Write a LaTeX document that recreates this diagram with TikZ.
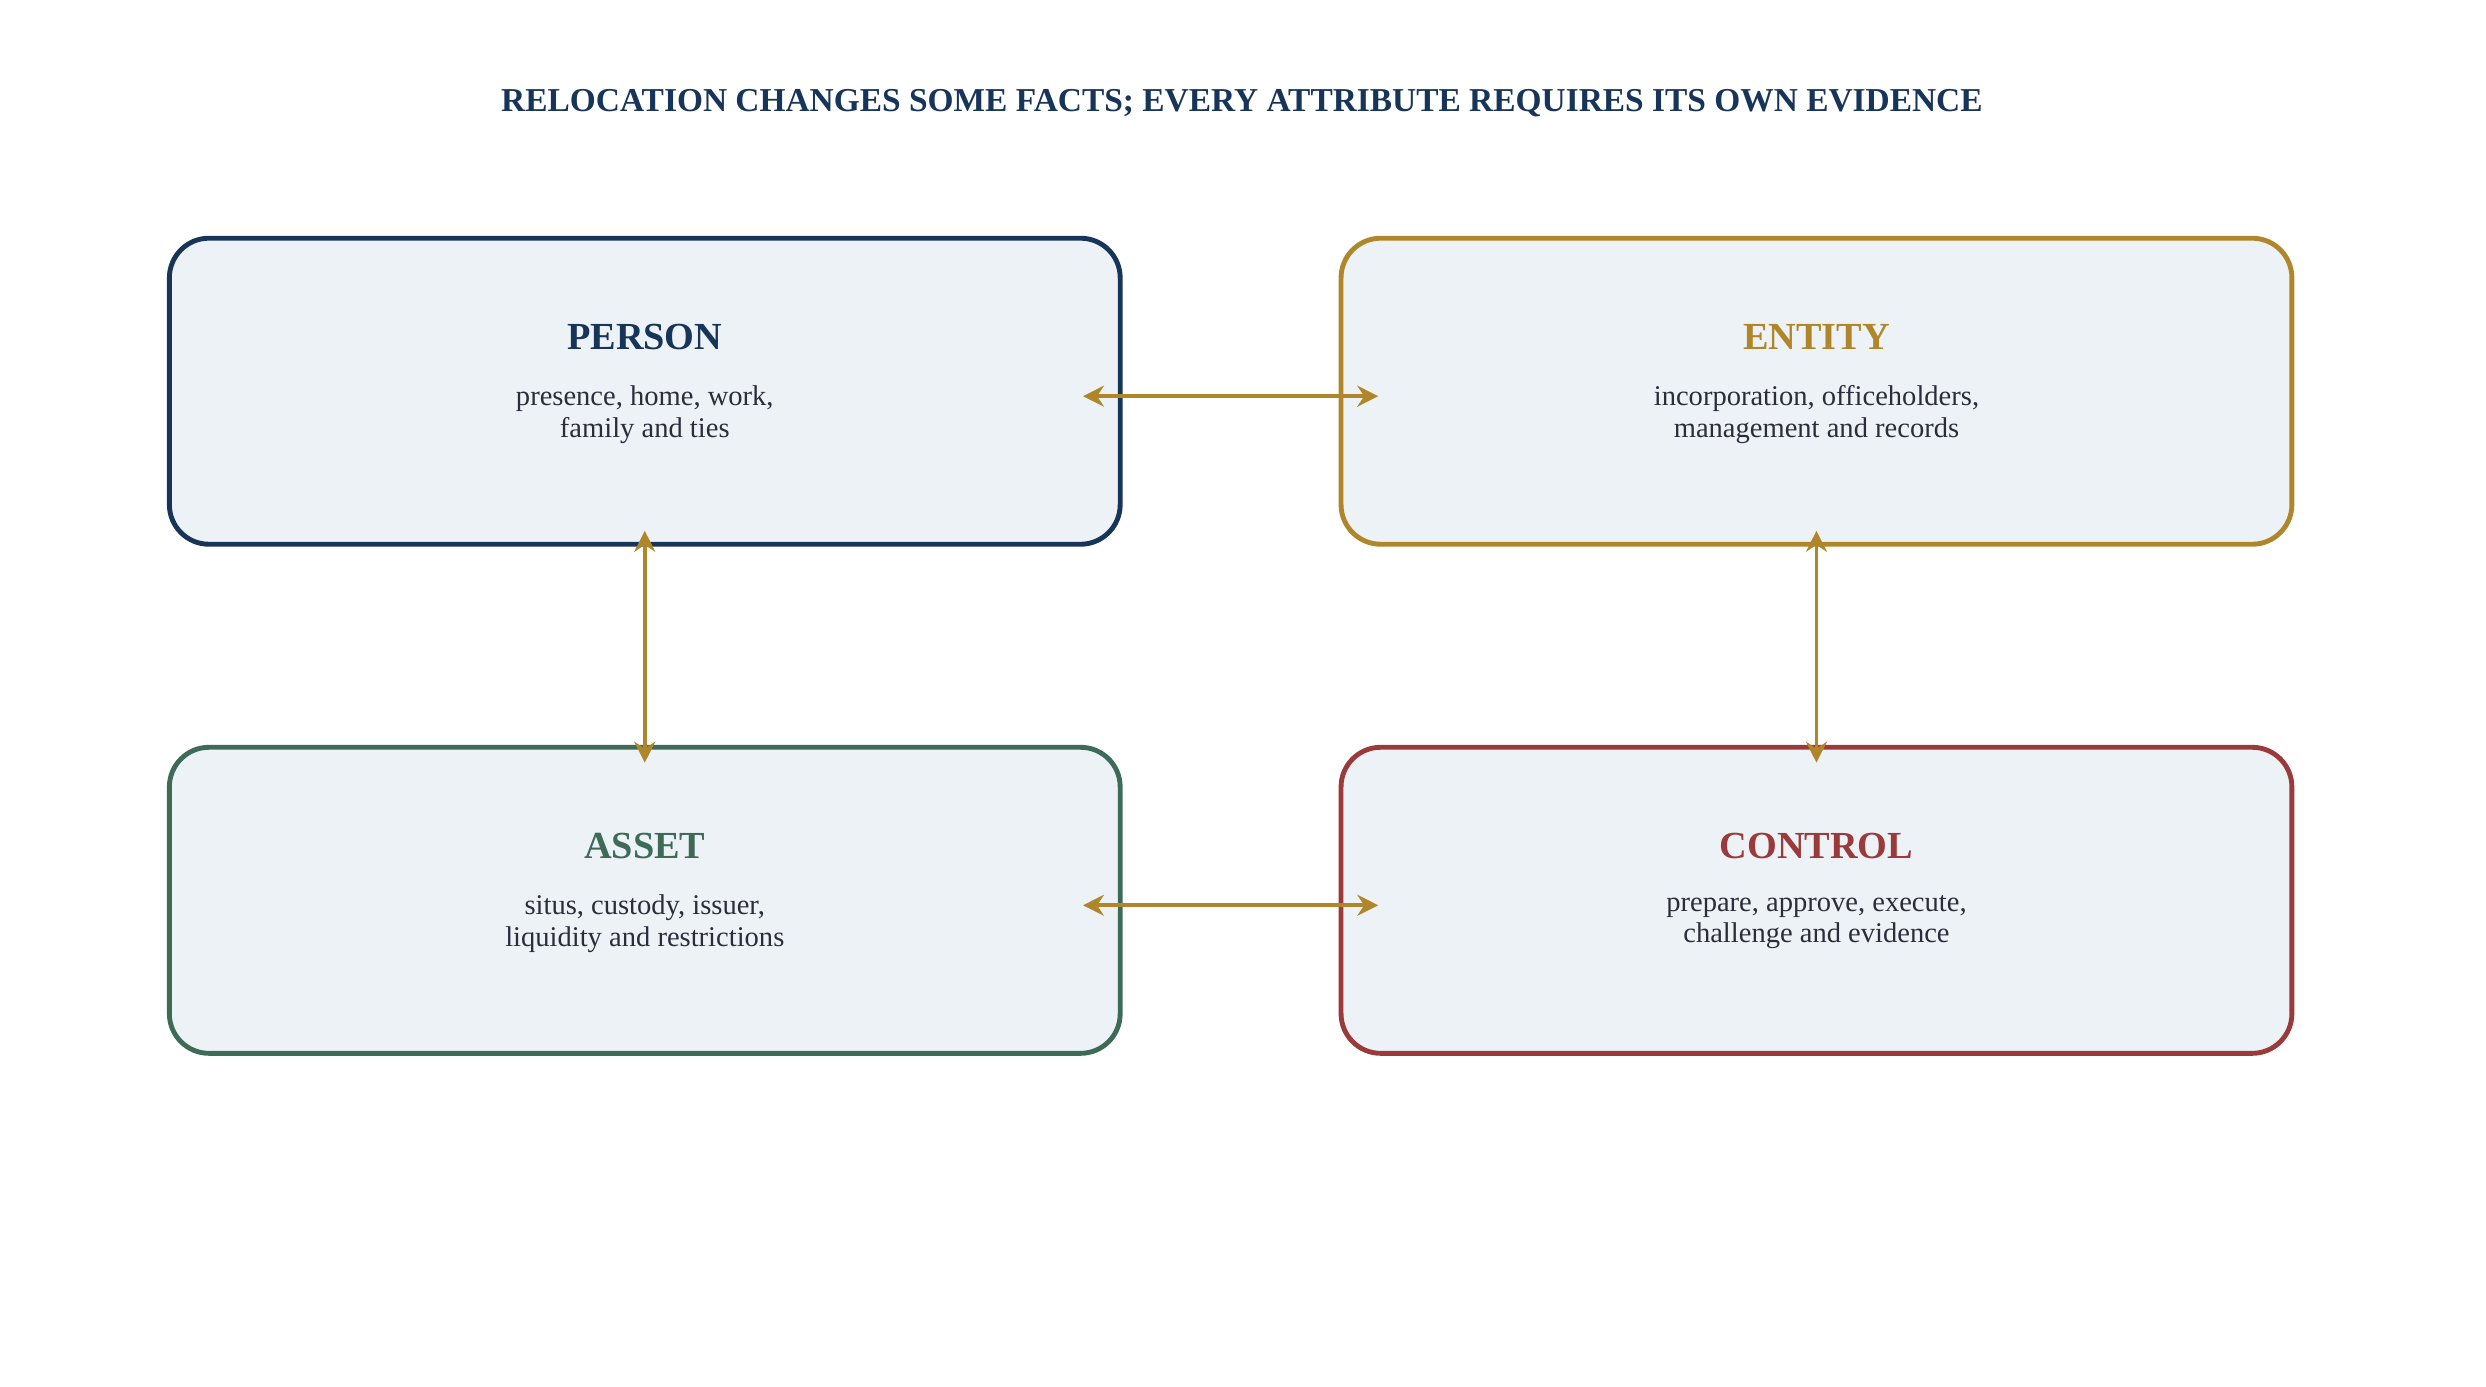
\documentclass[tikz,border=0pt]{standalone}
\usepackage{fontspec}
\setmainfont{Liberation Serif}
\usetikzlibrary{positioning,arrows.meta}
\definecolor{navy}{HTML}{173459}
\definecolor{gold}{HTML}{B0862A}
\definecolor{moss}{HTML}{3E6B58}
\definecolor{brick}{HTML}{9B3A3A}
\definecolor{pale}{HTML}{EDF2F7}
\definecolor{ink}{HTML}{2B2D3B}
\tikzset{
  card/.style={draw=#1,fill=pale,line width=1.4pt,rounded corners=0.4cm,minimum width=9.6cm,minimum height=3.09cm},
  head/.style={text=#1,font=\fontsize{11}{13}\selectfont\bfseries},
  body/.style={text=ink,align=center,font=\fontsize{8.2}{9}\selectfont},
  link/.style={draw=gold,line width=1.1pt,{Stealth[length=6pt,width=6pt]}-{Stealth[length=6pt,width=6pt]}}
}
\begin{document}
\begin{tikzpicture}
\useasboundingbox (0,0) rectangle (25.1,-14.0);
\node[text=navy,font=\fontsize{9.6}{12}\selectfont\bfseries] (title) at (12.54,-1.04) {RELOCATION CHANGES SOME FACTS; EVERY ATTRIBUTE REQUIRES ITS OWN EVIDENCE};
% the four cards
\node[card=navy] (person) at (6.51,-3.95) {};
\node[card=gold] (entity) at (18.34,-3.95) {};
\node[card=moss] (asset) at (6.51,-9.09) {};
\node[card=brick] (control) at (18.34,-9.09) {};
\node[head=navy] (personh) at ([yshift=0.55cm]person.center) {PERSON};
\node[body,below=0.12cm of personh] {presence, home, work,\\family and ties};
\node[head=gold] (entityh) at ([yshift=0.55cm]entity.center) {ENTITY};
\node[body,below=0.12cm of entityh] {incorporation, officeholders,\\management and records};
\node[head=moss] (asseth) at ([yshift=0.55cm]asset.center) {ASSET};
\node[body,below=0.12cm of asseth] {situs, custody, issuer,\\liquidity and restrictions};
\node[head=brick] (controlh) at ([yshift=0.55cm]control.center) {CONTROL};
\node[body,below=0.12cm of controlh] {prepare, approve, execute,\\challenge and evidence};
% links
\draw[link] ([xshift=-0.4cm,yshift=-0.05cm]person.east) -- ([xshift=0.4cm,yshift=-0.05cm]entity.west);
\draw[link] ([xshift=-0.4cm,yshift=-0.05cm]asset.east) -- ([xshift=0.4cm,yshift=-0.05cm]control.west);
\draw[link] ([yshift=0.16cm]person.south) -- ([yshift=-0.18cm]asset.north);
\draw[link] ([yshift=0.16cm]entity.south) -- ([yshift=-0.18cm]control.north);
\end{tikzpicture}
\end{document}
